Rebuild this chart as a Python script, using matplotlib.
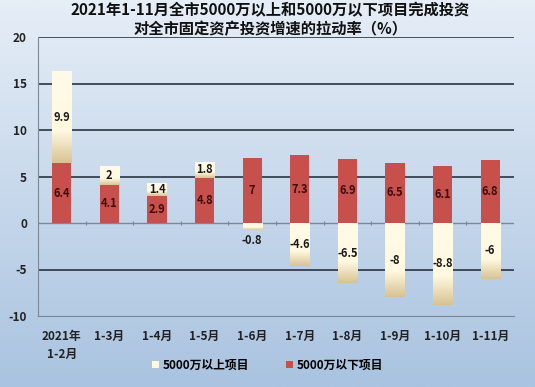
import numpy as np
import matplotlib
matplotlib.use('Agg')
import matplotlib.pyplot as plt
from matplotlib.colors import LinearSegmentedColormap
from matplotlib.patches import Patch

plt.rcParams['font.family'] = ['Noto Sans CJK SC', 'DejaVu Sans']
plt.rcParams['font.weight'] = 'bold'

# data
categories = ['2021年\n1-2月', '1-3月', '1-4月', '1-5月', '1-6月', '1-7月',
              '1-8月', '1-9月', '1-10月', '1-11月']
above_5000 = [9.9, 2, 1.4, 1.8, -0.8, -4.6, -6.5, -8, -8.8, -6]
below_5000 = [6.4, 4.1, 2.9, 4.8, 7, 7.3, 6.9, 6.5, 6.1, 6.8]
yticks = [-10, -5, 0, 5, 10, 15, 20]
title = '2021年1-11月全市5000万以上和5000万以下项目完成投资\n对全市固定资产投资增速的拉动率（%）'

red = '#c8504c'
cream = '#fff9e0'
tan = '#d8c293'

fig = plt.figure(figsize=(5.35, 3.87), dpi=100)

# background gradient for the whole figure
bg = fig.add_axes([0, 0, 1, 1], zorder=-10)
bg_cmap = LinearSegmentedColormap.from_list('bg', ['#a9c3e0', '#e6eef7'])
bg.imshow(np.linspace(0, 1, 256).reshape(-1, 1), cmap=bg_cmap, aspect='auto',
          origin='lower', extent=[0, 1, 0, 1])
bg.set_axis_off()

ax = fig.add_axes([38 / 535, 1 - 316 / 387, 476 / 535, 279 / 387])
ax.set_facecolor('none')

x = np.arange(len(categories))
w = 0.4
bottoms = [b if a > 0 else 0 for a, b in zip(above_5000, below_5000)]

red_bars = ax.bar(x, below_5000, w, color=red, zorder=3)
cream_bars = ax.bar(x, above_5000, w, bottom=bottoms, color=cream, zorder=3)

# gradient fill on the cream bars (tan at the bottom)
grad_cmap = LinearSegmentedColormap.from_list(
    'g', [(0, tan), (0.35, cream), (1, '#fffbe8')])
for bar in cream_bars:
    bx, by = bar.get_x(), bar.get_y()
    bw, bh = bar.get_width(), bar.get_height()
    y0, y1 = min(by, by + bh), max(by, by + bh)
    img = ax.imshow(np.linspace(0, 1, 256).reshape(-1, 1), cmap=grad_cmap,
                    aspect='auto', origin='lower', extent=[bx, bx + bw, y0, y1],
                    zorder=3.5)
    img.set_clip_path(bar)

# labels
for i, (a, b) in enumerate(zip(above_5000, below_5000)):
    ax.text(i, b / 2, f'{b:g}', ha='center', va='center', fontsize=8,
            color='#3a0d0d', zorder=5)
    if a > 0:
        ya = b + a / 2
    elif a > -2:
        ya = a - 1.1
    else:
        ya = a / 2
    ax.text(i, ya, f'{a:g}', ha='center', va='center', fontsize=8,
            color='#1a1a1a', zorder=5)

ax.set_xlim(-0.5, len(categories) - 0.5)
ax.set_ylim(-10, 20)
ax.set_yticks(yticks)
ax.set_yticklabels([str(t) for t in yticks], fontsize=8.5, color='#222222')
for t in yticks:
    if t not in (0, -10):
        ax.axhline(t, color='#1c2633', lw=1.1, zorder=1)
ax.axhline(0, color='#7d8896', lw=1, zorder=2)
ax.vlines(x[:-1] + 0.5, -0.25, 0.25, color='#7d8896', lw=0.8, zorder=2)

ax.set_xticks(x)
ax.set_xticklabels(categories, fontsize=8.5, color='#222222', linespacing=1.5,
                   va='top')
ax.tick_params(axis='x', length=0, pad=10)
ax.tick_params(axis='y', length=0, pad=8)
for s in ['top', 'right']:
    ax.spines[s].set_visible(False)
ax.spines['left'].set_color('#7d8896')
ax.spines['bottom'].set_color('#7d8896')

fig.text(0.505, 0.995, title, ha='center', va='top', fontsize=11,
         color='#111111', linespacing=1.25)

handles = [Patch(facecolor=cream, edgecolor='none'),
           Patch(facecolor=red, edgecolor='none')]
fig.legend(handles, ['5000万以上项目', '5000万以下项目'], loc='center',
           bbox_to_anchor=(0.5, 1 - 365 / 387), ncol=2, frameon=False,
           fontsize=8.5, handlelength=0.6, handleheight=0.6, handletextpad=0.3,
           columnspacing=3.2)

fig.savefig('out.png', dpi=100)
